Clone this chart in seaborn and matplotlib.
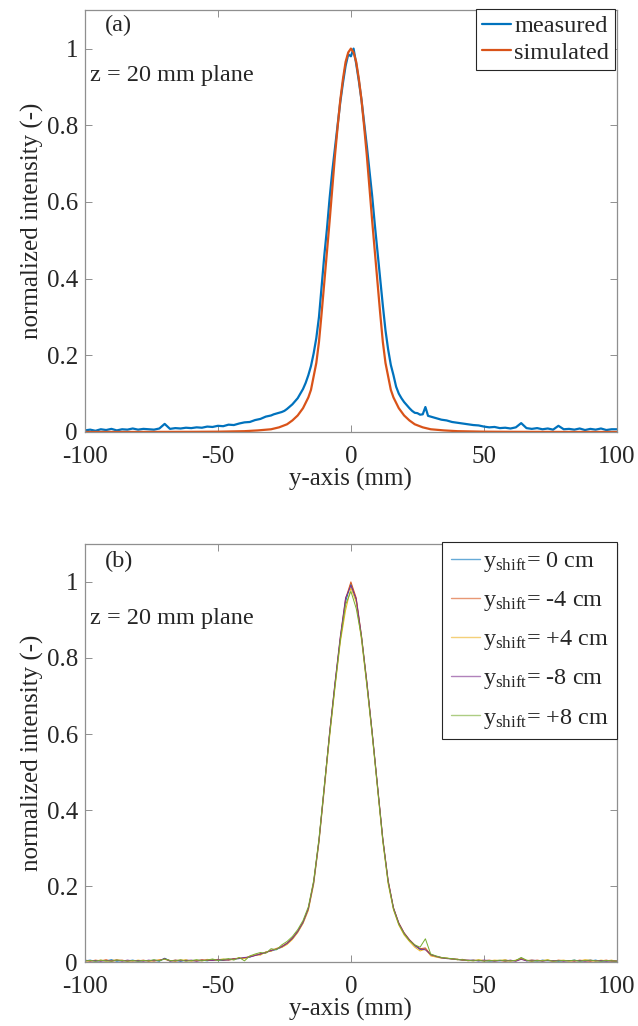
"""Normalized beam intensity profiles in the z = 20 mm plane (measured vs simulated, lateral shifts)."""

import matplotlib

matplotlib.use("Agg")

import matplotlib.pyplot as plt
import numpy as np
import pandas as pd
import seaborn as sns


# ---- panel (a): measured profile, sampled every 2 mm in the tails and 1 mm around the peak
MEAS_X = np.concatenate([np.arange(-100, -29, 2), np.arange(-29, 30, 1), np.arange(30, 101, 2)])
MEAS_Y = [
    # -100 .. -30 (step 2)
    0.004, 0.006, 0.003, 0.007, 0.005, 0.008, 0.004, 0.007, 0.006, 0.009,
    0.006, 0.008, 0.007, 0.006, 0.009, 0.021, 0.008, 0.010, 0.009, 0.011,
    0.010, 0.012, 0.011, 0.014, 0.013, 0.016, 0.015, 0.019, 0.018, 0.022,
    0.025, 0.026, 0.031, 0.034, 0.040, 0.043,
    # -29 .. 29 (step 1)
    0.046, 0.048, 0.050, 0.052, 0.055, 0.060, 0.066, 0.072, 0.080, 0.088,
    0.100, 0.112, 0.128, 0.148, 0.172, 0.205, 0.245, 0.300, 0.380, 0.460,
    0.530, 0.610, 0.680, 0.740, 0.800, 0.860, 0.910, 0.955, 0.985, 0.980,
    1.000, 0.960, 0.915, 0.865, 0.805, 0.745, 0.680, 0.615, 0.540, 0.470,
    0.400, 0.330, 0.265, 0.215, 0.175, 0.148, 0.118, 0.100, 0.088, 0.078,
    0.070, 0.062, 0.055, 0.050, 0.049, 0.045, 0.046, 0.065, 0.042,
    # 30 .. 100 (step 2)
    0.040, 0.036, 0.032, 0.030, 0.026, 0.024, 0.022, 0.020, 0.018, 0.017,
    0.014, 0.012, 0.013, 0.010, 0.011, 0.009, 0.012, 0.023, 0.010, 0.008,
    0.010, 0.007, 0.009, 0.006, 0.016, 0.007, 0.008, 0.006, 0.009, 0.005,
    0.008, 0.006, 0.009, 0.005, 0.007, 0.007,
]

# simulated profile (smooth)
SIM_X = [-100, -80, -60, -50, -40, -35, -30, -27, -24, -22, -20, -18, -16, -15, -14,
         -13, -12, -11, -10, -9, -8, -7, -6, -5, -4, -3, -2, -1, 0,
         1, 2, 3, 4, 5, 6, 7, 8, 9, 10, 11, 12, 13, 14, 15, 16, 18, 20, 22, 24,
         27, 30, 35, 40, 50, 60, 80, 100]
SIM_Y = [0.0, 0.0, 0.0003, 0.0007, 0.002, 0.004, 0.007, 0.012, 0.020, 0.030, 0.043, 0.062, 0.090, 0.110, 0.145,
         0.180, 0.235, 0.310, 0.390, 0.470, 0.550, 0.635, 0.720, 0.795, 0.865, 0.920, 0.965, 0.990, 1.000,
         0.990, 0.965, 0.920, 0.865, 0.795, 0.720, 0.635, 0.550, 0.470, 0.390, 0.310, 0.235, 0.180, 0.145, 0.110,
         0.090, 0.062, 0.043, 0.030, 0.020, 0.012, 0.007, 0.004, 0.002, 0.0007, 0.0003, 0.0, 0.0]

CURVES_A = ["measured", "simulated"]
COLORS_A = ["#0072BD", "#D95319"]

# ---- panel (b): measured profiles for five lateral shifts, sampled every 2 mm
SHIFT_X = np.arange(-100, 101, 2)
SHIFT_0 = [
    0.004, 0.006, 0.003, 0.005, 0.004, 0.007, 0.003, 0.005, 0.004, 0.006,
    0.003, 0.005, 0.004, 0.006, 0.003, 0.011, 0.004, 0.005, 0.003, 0.006,
    0.004, 0.005, 0.006, 0.004, 0.007, 0.006, 0.005, 0.008, 0.009, 0.010,
    0.012, 0.014, 0.019, 0.021, 0.027, 0.030, 0.034, 0.040, 0.049, 0.062,
    0.080, 0.104, 0.140, 0.208, 0.318, 0.458, 0.600, 0.728, 0.848, 0.948,
    0.995, 0.952, 0.852, 0.732, 0.602, 0.462, 0.322, 0.212, 0.142, 0.102,
    0.076, 0.058, 0.044, 0.034, 0.036, 0.019, 0.015, 0.012, 0.011, 0.009,
    0.008, 0.006, 0.005, 0.006, 0.004, 0.005, 0.003, 0.005, 0.004, 0.006,
    0.004, 0.005, 0.011, 0.004, 0.005, 0.003, 0.006, 0.004, 0.005, 0.003,
    0.005, 0.004, 0.006, 0.003, 0.005, 0.004, 0.006, 0.003, 0.004, 0.005,
    0.003,
]
SHIFT_M4 = [
    0.005, 0.003, 0.006, 0.004, 0.007, 0.003, 0.005, 0.006, 0.003, 0.005,
    0.004, 0.006, 0.003, 0.005, 0.006, 0.009, 0.005, 0.003, 0.006, 0.004,
    0.005, 0.004, 0.007, 0.005, 0.006, 0.008, 0.006, 0.007, 0.010, 0.011,
    0.011, 0.016, 0.018, 0.023, 0.025, 0.032, 0.036, 0.042, 0.051, 0.064,
    0.082, 0.106, 0.142, 0.212, 0.322, 0.462, 0.605, 0.732, 0.852, 0.955,
    1.000, 0.958, 0.858, 0.738, 0.606, 0.466, 0.326, 0.216, 0.144, 0.104,
    0.078, 0.060, 0.046, 0.036, 0.038, 0.020, 0.016, 0.013, 0.010, 0.010,
    0.007, 0.008, 0.004, 0.006, 0.005, 0.004, 0.006, 0.004, 0.005, 0.003,
    0.005, 0.004, 0.010, 0.005, 0.003, 0.006, 0.004, 0.005, 0.003, 0.006,
    0.004, 0.005, 0.003, 0.006, 0.004, 0.003, 0.005, 0.004, 0.006, 0.003,
    0.004,
]
SHIFT_P4 = [
    0.003, 0.005, 0.004, 0.006, 0.003, 0.005, 0.007, 0.004, 0.005, 0.003,
    0.006, 0.004, 0.005, 0.003, 0.007, 0.008, 0.004, 0.006, 0.005, 0.007,
    0.003, 0.006, 0.004, 0.008, 0.005, 0.007, 0.009, 0.006, 0.008, 0.012,
    0.010, 0.015, 0.020, 0.019, 0.028, 0.029, 0.037, 0.039, 0.047, 0.060,
    0.078, 0.102, 0.136, 0.204, 0.314, 0.452, 0.592, 0.720, 0.840, 0.925,
    0.985, 0.946, 0.846, 0.726, 0.596, 0.456, 0.316, 0.206, 0.138, 0.098,
    0.072, 0.055, 0.040, 0.030, 0.035, 0.017, 0.014, 0.011, 0.012, 0.008,
    0.009, 0.005, 0.006, 0.004, 0.007, 0.005, 0.004, 0.006, 0.005, 0.007,
    0.003, 0.006, 0.009, 0.005, 0.006, 0.004, 0.005, 0.007, 0.003, 0.005,
    0.006, 0.003, 0.005, 0.004, 0.007, 0.005, 0.003, 0.006, 0.004, 0.006,
    0.002,
]
SHIFT_M8 = [
    0.006, 0.004, 0.005, 0.003, 0.005, 0.004, 0.006, 0.003, 0.006, 0.004,
    0.005, 0.003, 0.006, 0.004, 0.005, 0.010, 0.003, 0.006, 0.004, 0.005,
    0.006, 0.003, 0.005, 0.006, 0.005, 0.007, 0.007, 0.006, 0.009, 0.010,
    0.013, 0.014, 0.018, 0.022, 0.026, 0.031, 0.035, 0.041, 0.050, 0.063,
    0.081, 0.105, 0.141, 0.210, 0.320, 0.460, 0.603, 0.734, 0.856, 0.958,
    0.990, 0.955, 0.856, 0.736, 0.604, 0.464, 0.324, 0.214, 0.143, 0.103,
    0.077, 0.059, 0.045, 0.035, 0.033, 0.021, 0.016, 0.012, 0.010, 0.009,
    0.008, 0.006, 0.006, 0.005, 0.004, 0.006, 0.005, 0.003, 0.005, 0.004,
    0.006, 0.003, 0.008, 0.004, 0.006, 0.005, 0.003, 0.005, 0.004, 0.005,
    0.003, 0.005, 0.004, 0.005, 0.003, 0.006, 0.004, 0.005, 0.003, 0.004,
    0.003,
]
SHIFT_P8 = [
    0.004, 0.005, 0.003, 0.006, 0.004, 0.003, 0.006, 0.005, 0.003, 0.005,
    0.003, 0.005, 0.004, 0.007, 0.004, 0.009, 0.005, 0.004, 0.007, 0.003,
    0.005, 0.007, 0.004, 0.006, 0.009, 0.005, 0.008, 0.010, 0.006, 0.013,
    0.004, 0.017, 0.022, 0.026, 0.024, 0.036, 0.033, 0.046, 0.055, 0.068,
    0.086, 0.110, 0.146, 0.215, 0.325, 0.465, 0.598, 0.725, 0.846, 0.940,
    0.975, 0.930, 0.854, 0.730, 0.600, 0.460, 0.320, 0.210, 0.140, 0.100,
    0.075, 0.057, 0.046, 0.040, 0.062, 0.022, 0.017, 0.013, 0.011, 0.010,
    0.007, 0.007, 0.005, 0.004, 0.006, 0.003, 0.005, 0.004, 0.006, 0.004,
    0.004, 0.005, 0.013, 0.006, 0.003, 0.005, 0.004, 0.006, 0.003, 0.004,
    0.005, 0.004, 0.006, 0.003, 0.005, 0.006, 0.004, 0.003, 0.005, 0.004,
    0.003,
]
SHIFT_LABELS = ["0 cm", "-4 cm", "+4 cm", "-8 cm", "+8 cm"]
COLORS_B = ["#0072BD", "#D95319", "#EDB120", "#7E2F8E", "#77AC30"]

X_TICKS = [-100, -50, 0, 50, 100]
Y_TICKS = [0, 0.2, 0.4, 0.6, 0.8, 1]
Y_TICK_LABELS = ["0", "0.2", "0.4", "0.6", "0.8", "1"]

TEXT_COLOR = "#262626"
AXIS_COLOR = "#8f8f8f"


def style_axes(ax) -> None:
    """MATLAB-like box axes with inward ticks on all sides."""

    ax.set_xlim(-100, 100)
    ax.set_ylim(0, 1.1)
    ax.set_xticks(X_TICKS)
    ax.set_xticklabels([str(t) for t in X_TICKS])
    ax.set_yticks(Y_TICKS)
    ax.set_yticklabels(Y_TICK_LABELS)
    ax.tick_params(direction="in", top=True, right=True, length=5, width=0.7,
                   color=AXIS_COLOR, labelcolor=TEXT_COLOR, labelsize=18)
    ax.tick_params(axis="x", pad=10)
    ax.tick_params(axis="y", pad=5)
    for spine in ax.spines.values():
        spine.set_color(AXIS_COLOR)
        spine.set_linewidth(0.9)
        spine.set_visible(True)
    ax.set_xlabel("y-axis (mm)", fontsize=18, color=TEXT_COLOR, labelpad=0)
    ax.set_ylabel("normalized intensity (-)", fontsize=18, color=TEXT_COLOR, labelpad=2)


def main() -> None:
    sns.set_style("ticks")
    plt.rcParams.update({
        "font.family": ["Liberation Serif", "DejaVu Serif"],
        "mathtext.fontset": "custom",
        "mathtext.rm": "Liberation Serif",
        "mathtext.it": "Liberation Serif:italic",
        "axes.unicode_minus": False,
    })

    fig = plt.figure(figsize=(6.38, 10.26), dpi=100)
    ax_a = fig.add_axes([0.133, 0.579, 0.834, 0.411])
    ax_b = fig.add_axes([0.133, 0.062, 0.834, 0.408])

    # panel (a)
    frame_a = pd.concat([
        pd.DataFrame({"y_mm": MEAS_X, "intensity": MEAS_Y, "curve": CURVES_A[0]}),
        pd.DataFrame({"y_mm": SIM_X, "intensity": SIM_Y, "curve": CURVES_A[1]}),
    ], ignore_index=True)
    sns.lineplot(data=frame_a, x="y_mm", y="intensity", hue="curve", hue_order=CURVES_A,
                 palette=COLORS_A, linewidth=1.6, estimator=None, sort=False, ax=ax_a)
    style_axes(ax_a)
    ax_a.get_legend().remove()
    leg_a = ax_a.legend(ax_a.lines[:2], CURVES_A, loc="upper right", bbox_to_anchor=(0.997, 1.003),
                        borderaxespad=0, fontsize=17.5, frameon=True, fancybox=False, framealpha=1,
                        edgecolor="#262626", handlelength=1.2, handletextpad=0.15, labelspacing=0.2,
                        borderpad=0.25)
    leg_a.get_frame().set_linewidth(0.8)
    ax_a.text(0.038, 0.965, "(a)", transform=ax_a.transAxes, fontsize=17.5, color=TEXT_COLOR, va="center")
    ax_a.text(0.01, 0.845, "z = 20 mm plane", transform=ax_a.transAxes, fontsize=17.5,
              color=TEXT_COLOR, va="center")

    # panel (b)
    shift_series = [SHIFT_0, SHIFT_M4, SHIFT_P4, SHIFT_M8, SHIFT_P8]
    labels_b = [r"$\mathregular{y_{shift}}$= " + lab for lab in SHIFT_LABELS]
    frame_b = pd.concat([
        pd.DataFrame({"y_mm": SHIFT_X, "intensity": vals, "shift": lab})
        for vals, lab in zip(shift_series, labels_b)
    ], ignore_index=True)
    sns.lineplot(data=frame_b, x="y_mm", y="intensity", hue="shift", hue_order=labels_b,
                 palette=COLORS_B, linewidth=0.7, estimator=None, sort=False, ax=ax_b)
    style_axes(ax_b)
    ax_b.get_legend().remove()
    leg_b = ax_b.legend(ax_b.lines[:5], labels_b, loc="upper right", bbox_to_anchor=(1.0, 1.005),
                        borderaxespad=0, fontsize=17.5, frameon=True, fancybox=False, framealpha=1,
                        edgecolor="#262626", handlelength=1.2, handletextpad=0.1, labelspacing=0.62,
                        borderpad=0.35)
    leg_b.get_frame().set_linewidth(0.8)
    for handle in leg_b.get_lines():
        handle.set_alpha(0.6)
        handle.set_linewidth(1.0)
    ax_b.text(0.038, 0.958, "(b)", transform=ax_b.transAxes, fontsize=17.5, color=TEXT_COLOR, va="center")
    ax_b.text(0.01, 0.821, "z = 20 mm plane", transform=ax_b.transAxes, fontsize=17.5,
              color=TEXT_COLOR, va="center")

    fig.savefig("out.png", dpi=100)
    plt.close(fig)


if __name__ == "__main__":
    main()
